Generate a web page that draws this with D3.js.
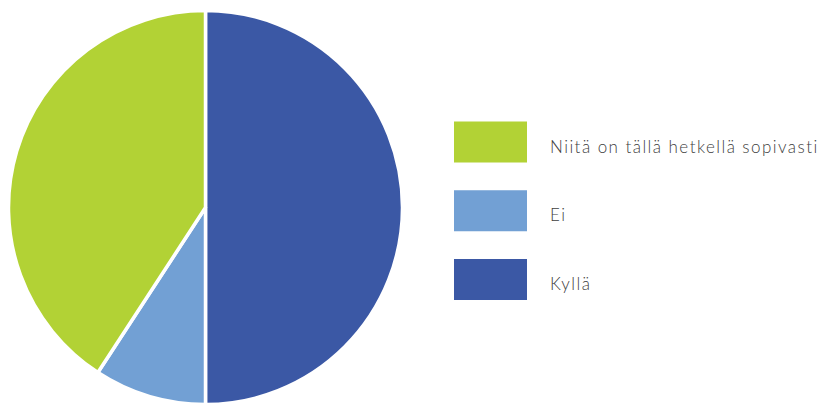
<!DOCTYPE html>
<html>
<head>
<meta charset="utf-8">
<script src="https://cdn.jsdelivr.net/npm/d3@7"></script>
<style>
  body { margin: 0; background: #fff; }
  .legendText { font-family: Lato, "Open Sans", sans-serif; font-weight: 300; font-size: 17px; fill: #404040; letter-spacing: 1.45px; }
</style>
</head>
<body>
<script>
(function(){

// chart data
var categories = ["Kyllä", "Ei", "Niitä on tällä hetkellä sopivasti"];
var values = [50, 9.2, 40.8];
var colors = ["#3b58a5", "#72a0d4", "#b2d235"];
// legend order, top to bottom
var legendOrder = ["Niitä on tällä hetkellä sopivasti", "Ei", "Kyllä"];

window.onload = drawChart();

function drawChart(){
    var width = 819,
        height = 403;

    var svg = d3.select("body")
        .append("svg")
        .attr("width", width)
        .attr("height", height)
        .style("overflow", "visible");

    var radius = 197;

    var pieGroup = svg.append("g")
        .attr("transform", "translate(205.5,207.5)");

    var data = categories.map(function(c, i){
        return { name: c, value: values[i] };
    });

    var color = d3.scaleOrdinal()
        .domain(categories)
        .range(colors);

    var pie = d3.pie()
        .sort(null)
        .value(function(d){ return d.value; });

    var arc = d3.arc()
        .innerRadius(0)
        .outerRadius(radius);

    pieGroup.selectAll(".slice")
        .data(pie(data))
        .enter()
        .append("path")
        .attr("class", "slice")
        .attr("d", arc)
        .style("fill", function(d){ return color(d.data.name); })
        .style("stroke", "#fff")
        .style("stroke-width", 3.5)
        .style("stroke-linejoin", "round");

    //legend
    var legendY = d3.scalePoint()
        .domain(legendOrder)
        .range([142, 279.5]);

    var legend = svg.selectAll(".legendItem")
        .data(legendOrder)
        .enter()
        .append("g")
        .attr("class", "legendItem")
        .attr("transform", function(d){ return "translate(454," + legendY(d) + ")"; });

    legend.append("rect")
        .attr("x", 0)
        .attr("y", -20.5)
        .attr("width", 73)
        .attr("height", 41)
        .style("fill", function(d){ return color(d); });

    legend.append("text")
        .attr("class", "legendText")
        .attr("x", 96)
        .attr("y", 10.5)
        .text(function(d){ return d; });
};

})();
</script>
</body>
</html>
